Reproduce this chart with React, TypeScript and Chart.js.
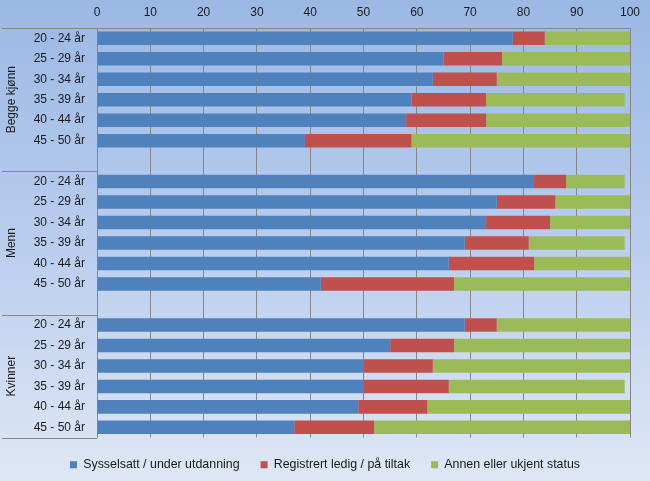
import React, { useEffect, useRef } from 'react';
import { Chart, registerables } from 'chart.js';

Chart.register(...registerables);

const groups = ['Begge kjønn', 'Menn', 'Kvinner'];
const ages = ['20 - 24 år', '25 - 29 år', '30 - 34 år', '35 - 39 år', '40 - 44 år', '45 - 50 år'];
const seriesNames = ['Sysselsatt / under utdanning', 'Registrert ledig / på tiltak', 'Annen eller ukjent status'];
const seriesColors = ['#4F81BD', '#C0504D', '#9BBB59'];

const sysselsattBegge = [78, 65, 63, 59, 58, 39];
const ledigBegge = [6, 11, 12, 14, 15, 20];
const annenBegge = [16, 24, 25, 26, 27, 41];

const sysselsattMenn = [82, 75, 73, 69, 66, 42];
const ledigMenn = [6, 11, 12, 12, 16, 25];
const annenMenn = [11, 14, 15, 18, 18, 33];

const sysselsattKvinner = [69, 55, 50, 50, 49, 37];
const ledigKvinner = [6, 12, 13, 16, 13, 15];
const annenKvinner = [25, 33, 37, 33, 38, 48];

const xMin = 0;
const xMax = 100;
const xStep = 10;

const FONT = '"Liberation Sans", Arial, sans-serif';
const TEXT = '#1a1a1a';
const LINE = '#878787';

function buildSeries(parts: number[][]): (number | null)[] {
  const out: (number | null)[] = [];
  parts.forEach((p, gi) => {
    p.forEach((v) => out.push(v));
    if (gi < parts.length - 1) out.push(null);
  });
  return out;
}

const yLabels: string[] = [];
groups.forEach((_, gi) => {
  ages.forEach((a) => yLabels.push(a));
  if (gi < groups.length - 1) yLabels.push('');
});

const seriesData = [
  buildSeries([sysselsattBegge, sysselsattMenn, sysselsattKvinner]),
  buildSeries([ledigBegge, ledigMenn, ledigKvinner]),
  buildSeries([annenBegge, annenMenn, annenKvinner]),
];

const groupAxisPlugin = {
  id: 'groupAxis',
  afterDraw(chart: any) {
    const ctx = chart.ctx as CanvasRenderingContext2D;
    const y = chart.scales.y;
    const area = chart.chartArea;
    const half = (area.bottom - area.top) / yLabels.length / 2;
    ctx.save();
    ctx.strokeStyle = LINE;
    ctx.lineWidth = 1;
    let start = 0;
    const boundaries: number[] = [];
    groups.forEach((g, gi) => {
      const count = ages.length + (gi < groups.length - 1 ? 1 : 0);
      const top = y.getPixelForValue(start) - half;
      const bottom = y.getPixelForValue(start + count - 1) + half;
      if (gi === 0) boundaries.push(top);
      boundaries.push(bottom);
      ctx.save();
      ctx.translate(12, (top + bottom) / 2);
      ctx.rotate(-Math.PI / 2);
      ctx.fillStyle = TEXT;
      ctx.font = `12px ${FONT}`;
      ctx.textAlign = 'center';
      ctx.textBaseline = 'middle';
      ctx.fillText(g, 0, 0);
      ctx.restore();
      start += count;
    });
    boundaries.forEach((b) => {
      const yy = Math.round(b) + 0.5;
      ctx.beginPath();
      ctx.moveTo(2, yy);
      ctx.lineTo(area.left, yy);
      ctx.stroke();
    });
    ctx.restore();
  },
};

export default function App() {
  const ref = useRef<HTMLCanvasElement | null>(null);

  useEffect(() => {
    if (!ref.current) return;
    const chart = new Chart(ref.current, {
      type: 'bar',
      data: {
        labels: yLabels,
        datasets: seriesNames.map((name, i) => ({
          label: name,
          data: seriesData[i],
          backgroundColor: seriesColors[i],
          borderWidth: 0,
          barPercentage: 0.66,
          categoryPercentage: 1,
        })),
      },
      options: {
        animation: false,
        responsive: false,
        devicePixelRatio: 1,
        indexAxis: 'y',
        layout: { padding: 0 },
        scales: {
          x: {
            position: 'top',
            stacked: true,
            min: xMin,
            max: xMax,
            ticks: { stepSize: xStep, padding: 8, color: TEXT, font: { family: FONT, size: 12 } },
            grid: { color: LINE, drawTicks: false },
            border: { display: true, color: LINE },
            afterFit: (s: any) => {
              s.height = 28;
              s.paddingRight = 20;
            },
          },
          y: {
            stacked: true,
            ticks: {
              padding: 12,
              autoSkip: false,
              color: TEXT,
              font: { family: FONT, size: 12 },
              callback: (_v: any, i: number) => yLabels[i],
            },
            grid: { display: false, drawTicks: false },
            border: { display: true, color: LINE },
            afterFit: (s: any) => {
              s.width = 97;
            },
          },
        },
        plugins: {
          legend: {
            position: 'bottom',
            labels: {
              boxWidth: 7,
              boxHeight: 7,
              padding: 21,
              color: TEXT,
              font: { family: FONT, size: 12.4 },
            },
          },
          tooltip: { enabled: false },
        },
      },
      plugins: [groupAxisPlugin],
    });
    return () => chart.destroy();
  }, []);

  return (
    <div
      style={{
        position: 'fixed',
        left: 0,
        top: 0,
        width: 650,
        height: 481,
        background: 'linear-gradient(to bottom, #9bb8e4 0%, #b9cdee 50%, #dfe7f5 100%)',
      }}
    >
      <canvas ref={ref} width={650} height={481} style={{ display: 'block' }} />
    </div>
  );
}
